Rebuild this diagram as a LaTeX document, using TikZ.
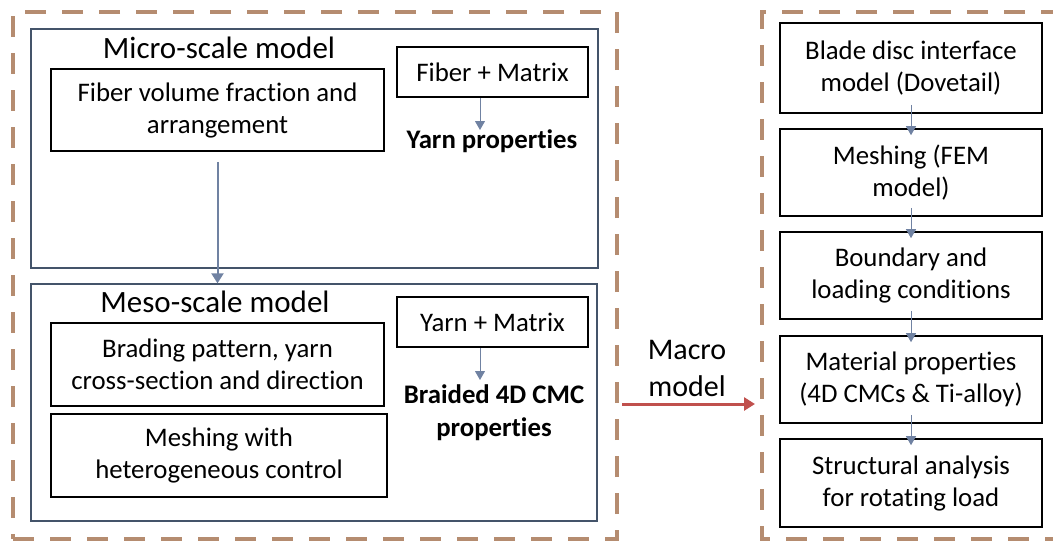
\documentclass[tikz,border=0pt]{standalone}
\usepackage{fontspec}
\setmainfont{Carlito}[Ligatures={NoCommon}]
\usetikzlibrary{arrows.meta}
\definecolor{frame}{RGB}{181,140,112}
\definecolor{inner}{RGB}{68,84,106}
\definecolor{arr}{RGB}{112,130,162}
\definecolor{redarr}{RGB}{192,80,77}
\tikzset{
  dashframe/.style={draw=frame,line width=4pt,dash pattern=on 21pt off 16pt},
  panel/.style={draw=inner,line width=1.3pt,inner sep=0pt},
  box/.style={draw=black,line width=1.6pt,inner sep=0pt,align=center,font=\fontsize{26.8}{32}\selectfont},
  btxt/.style={inner sep=0pt,align=center,font=\fontsize{26.8}{33}\selectfont\bfseries},
  title/.style={inner sep=0pt,font=\fontsize{31}{37}\selectfont},
  sarrow/.style={draw=arr,line width=1pt,-{Triangle[width=10pt,length=9pt]}},
  barrow/.style={draw=arr,line width=2pt,-{Triangle[width=12pt,length=10pt]}},
  rarrow/.style={draw=redarr,line width=3pt,-{Triangle[width=13pt,length=11pt]}},
}
\begin{document}
\begin{tikzpicture}[x=1pt,y=-1pt]
\useasboundingbox (0,0) rectangle (1053,542);
% dashed frames
\node[dashframe,minimum width=604pt,minimum height=527pt] (lf) at (315,275.5) {};
\draw[dashframe] (1062,12) -- (762,12) -- (762,539) -- (1062,539);
% panels
\node[panel,minimum width=567pt,minimum height=239pt] (micro) at (314.5,148.5) {};
\node[panel,minimum width=566pt,minimum height=237pt] (meso) at (314,402.5) {};
\node[title] (mit) at (219,48) {Micro-scale model};
\node[title] (met) at (215,302) {Meso-scale model};
% micro boxes
\node[box,minimum width=333pt,minimum height=82pt] (fv) at (217.5,110) {Fiber volume fraction and\\arrangement};
\node[box,minimum width=191pt,minimum height=50pt] (fm) at (492.5,72) {Fiber + Matrix};
\node[btxt] (yp) at (492,141) {Yarn properties};
% meso boxes
\node[box,minimum width=333pt,minimum height=83pt] (bp) at (217.5,364.5) {Brading pattern, yarn\\cross-section and direction};
\node[box,minimum width=336pt,minimum height=83pt] (mh) at (219,455.5) {Meshing with\\heterogeneous control};
\node[box,minimum width=191pt,minimum height=50pt] (ym) at (492.5,322) {Yarn + Matrix};
\node[btxt] (bc) at (494,413) {Braided 4D CMC\\properties};
% macro
\node[inner sep=0pt,align=center,font=\fontsize{30}{37}\selectfont] (mm) at (687,368) {Macro\\model};
% right boxes
\node[box,minimum width=262pt,minimum height=90pt] (r1) at (911,68) {Blade disc interface\\model (Dovetail)};
\node[box,minimum width=262pt,minimum height=87pt] (r2) at (911,172.5) {Meshing (FEM\\model)};
\node[box,minimum width=262pt,minimum height=87pt] (r3) at (911,275.5) {Boundary and\\loading conditions};
\node[box,minimum width=262pt,minimum height=87pt] (r4) at (911,379.5) {Material properties\\(4D CMCs \& Ti-alloy)};
\node[box,minimum width=262pt,minimum height=88pt] (r5) at (911,483) {Structural analysis\\for rotating load};
% arrows
\coordinate (ya) at (480,130);
\coordinate (yb) at (480,380);
\draw[sarrow] (fm.south -| ya) -- (ya);
\draw[sarrow] (ym.south -| yb) -- (yb);
\draw[barrow] ([yshift=-10pt]fv.south) -- (fv.south |- meso.north);
\coordinate (ma) at (622,404);
\coordinate (mb) at (755,404);
\draw[rarrow] (ma) -- (mb);
\foreach \a/\b in {r1/r2,r2/r3,r3/r4,r4/r5}{
  \draw[sarrow] ([yshift=9pt]\a.south) -- ([yshift=-7pt]\b.north);
}
\end{tikzpicture}
\end{document}
